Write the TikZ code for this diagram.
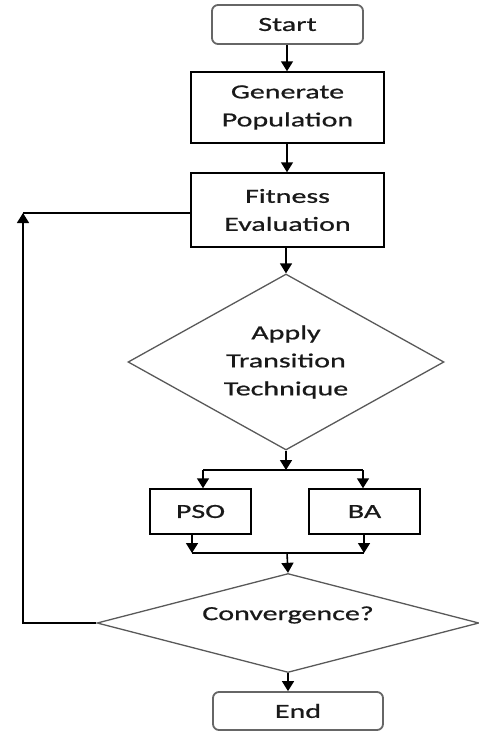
\documentclass[tikz,border=0pt]{standalone}
\usepackage{fontspec}
\setmainfont{Carlito}[FakeStretch=1.5,FakeBold=0.8]
\usetikzlibrary{shapes.geometric,arrows.meta}
\begin{document}
\begin{tikzpicture}[x=1pt,y=1pt,
  every node/.style={font=\fontsize{20}{28}\selectfont, text=black!90, align=center, inner sep=0pt},
  procbox/.style={draw=black, line width=1.5pt, rectangle},
  termbox/.style={draw=black!60, line width=1.8pt, rectangle, rounded corners=6pt},
  decision/.style={draw=black!65, line width=1.3pt, diamond, inner sep=0pt},
  conn/.style={line width=1.6pt, black},
  arr/.style={conn, -{Triangle[width=12pt,length=10pt]}}
]
\useasboundingbox (0,0) rectangle (479,-731);
\node[termbox, minimum width=151pt, minimum height=39pt] (start) at (287.5,-24.5) {Start};
\node[procbox, minimum width=193pt, minimum height=71pt] (gen) at (287.5,-107.5) {Generate\\Population};
\node[procbox, minimum width=193pt, minimum height=74pt] (fit) at (287.5,-210) {Fitness\\Evaluation};
\node[decision, minimum width=316pt, minimum height=176pt, aspect=1.8] (dia1) at (286,-362) {Apply\\Transition\\Technique};
\node[procbox, minimum width=101pt, minimum height=45pt] (pso) at (200.5,-511.5) {PSO};
\node[procbox, minimum width=111pt, minimum height=45pt] (ba) at (364.5,-511.5) {BA};
\node[decision, minimum width=382pt, minimum height=99pt, aspect=3.8] (dia2) at (288,-623) {};
\node (convtxt) at (288,-615) {Convergence?};
\node[termbox, minimum width=170pt, minimum height=38pt] (end) at (298,-711) {End};

\coordinate (split) at (286,-470);
\coordinate (splitL) at (203,-470);
\coordinate (splitR) at (363,-470);
\coordinate (joinL) at (192,-553);
\coordinate (joinR) at (364,-553);
\coordinate (join) at (287,-553);
\coordinate (loop) at (23,-213);

\draw[arr] (start.south -| 287,0) -- (gen.north -| 287,0);
\draw[arr] (gen.south -| 287,0) -- (fit.north -| 287,0);
\draw[arr] (fit.south -| 286,0) -- (dia1.north);
\draw[arr] (dia1.south) -- (split);
\draw[conn] (splitL) -- (splitR);
\draw[arr] (splitL) -- (splitL |- pso.north);
\draw[arr] (splitR) -- (splitR |- ba.north);
\draw[arr] (joinL |- pso.south) -- (joinL);
\draw[arr] (joinR |- ba.south) -- (joinR);
\draw[conn] (joinL) -- (joinR);
\draw[arr] (join) -- (dia2.north);
\draw[arr] (dia2.south) -- (dia2.south |- end.north);
\draw[arr] (dia2.west) -| (loop);
\draw[conn] (loop) -- (loop -| fit.west);
\end{tikzpicture}
\end{document}
